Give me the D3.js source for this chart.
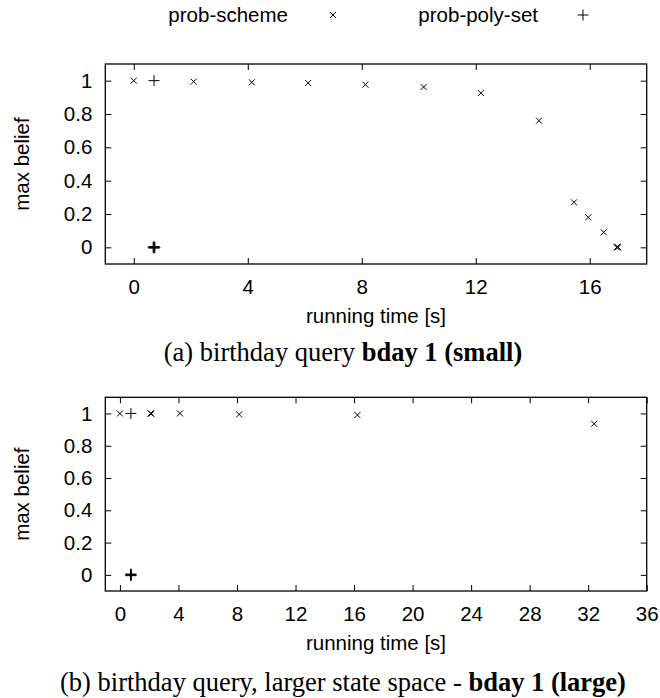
<!DOCTYPE html>
<html><head><meta charset="utf-8">
<script src="https://cdn.jsdelivr.net/npm/d3@7"></script>
<style>
html,body{margin:0;padding:0;background:#fff;}
svg{display:block;}
.sans{font-family:"Liberation Sans",Arial,sans-serif;}
.serif{font-family:"Liberation Serif","Times New Roman",serif;}
</style></head><body>
<svg id="c" width="660" height="698"></svg>
<script>
// ---- data ----
const seriesNames = ["prob-scheme", "prob-poly-set"];
// (a) small
const smallSchemeX = [0, 2.1, 4.14, 6.12, 8.13, 10.17, 12.18, 14.22, 15.45, 15.95, 16.49, 16.95, 16.97, 16.99];
const smallSchemeY = [1.0, 0.994, 0.99, 0.986, 0.976, 0.962, 0.926, 0.76, 0.27, 0.18, 0.09, 0.0, 0.004, 0.0];
const smallPolyX = [0.71, 0.68, 0.71, 0.74, 0.71];
const smallPolyY = [1.0, 0.0, 0.005, 0.0, -0.005];
// (b) large
const largeSchemeX = [0, 2.1, 2.14, 4.1, 8.15, 16.23, 32.41];
const largeSchemeY = [1.0, 1.0, 0.998, 1.0, 0.994, 0.99, 0.936];
const largePolyX = [0.75, 0.72, 0.75, 0.78, 0.75];
const largePolyY = [1.0, 0.0, 0.005, 0.0, -0.005];
const yTicks = [0, 0.2, 0.4, 0.6, 0.8, 1];
const smallXTicks = [0, 4, 8, 12, 16];
const largeXTicks = [0, 4, 8, 12, 16, 20, 24, 28, 32, 36];
const xLabel = "running time [s]";
const yLabel = "max belief";

const svg = d3.select("#c");
const FS = 20.5;

function crossPath(s){ return `M${-s},${-s}L${s},${s}M${-s},${s}L${s},${-s}`; }
function plusPath(s){ return `M${-s},0L${s},0M0,${-s}L0,${s}`; }

function panel(cfg){
  const {left,right,top,bottom,xDomain,xTicks,sx,sy,px,py} = cfg;
  const x = d3.scaleLinear().domain(xDomain).range([left,right]);
  const y = d3.scaleLinear().domain([-0.1,1.1]).range([bottom,top]);
  const g = svg.append("g");
  const tl = 6;
  const axB = d3.axisBottom(x).tickValues(xTicks).tickSize(-tl).tickPadding(tl+9).tickFormat(d3.format("d"));
  const axT = d3.axisTop(x).tickValues(xTicks).tickSize(-tl).tickFormat("");
  const axL = d3.axisLeft(y).tickValues(yTicks).tickSize(-tl).tickPadding(tl+7).tickFormat(d=>d3.format("~g")(d));
  const axR = d3.axisRight(y).tickValues(yTicks).tickSize(-tl).tickFormat("");
  [[axB,`translate(0,${bottom})`,true],[axT,`translate(0,${top})`,false],[axL,`translate(${left},0)`,false],[axR,`translate(${right},0)`,false]].forEach(([a,t,isB])=>{
    const ag = g.append("g").attr("transform",t).call(a);
    ag.select(".domain").remove();
    ag.selectAll(".tick line").attr("stroke","#000").attr("stroke-width",1);
    ag.selectAll("text").attr("class","sans").attr("font-size",FS).attr("fill","#000");
    if(isB) ag.selectAll("text").attr("dy","0.71em");
  });
  g.append("rect").attr("x",left).attr("y",top).attr("width",right-left).attr("height",bottom-top)
    .attr("fill","none").attr("stroke","#000").attr("stroke-width",1.3);
  g.append("g").selectAll("path").data(sx.map((v,i)=>[v,sy[i]])).join("path")
    .attr("transform",d=>`translate(${x(d[0])},${y(d[1])})`).attr("d",crossPath(3))
    .attr("stroke","#000").attr("stroke-width",1).attr("fill","none");
  g.append("g").selectAll("path").data(px.map((v,i)=>[v,py[i]])).join("path")
    .attr("transform",d=>`translate(${x(d[0])},${y(d[1])})`).attr("d",plusPath(5.5))
    .attr("stroke","#000").attr("stroke-width",1).attr("fill","none");
  g.append("text").attr("class","sans").attr("font-size",FS)
    .attr("transform",`translate(29,${(top+bottom)/2}) rotate(-90)`).attr("text-anchor","middle").text(yLabel);
  g.append("text").attr("class","sans").attr("font-size",FS)
    .attr("x",(left+right)/2).attr("y",bottom+59).attr("text-anchor","middle").text(xLabel);
}

panel({left:105.3,right:646.7,top:64,bottom:264,xDomain:[-1,18],xTicks:smallXTicks,
  sx:smallSchemeX,sy:smallSchemeY,px:smallPolyX,py:smallPolyY});
panel({left:105.3,right:646.7,top:397.3,bottom:591,xDomain:[-1,36],xTicks:largeXTicks,
  sx:largeSchemeX,sy:largeSchemeY,px:largePolyX,py:largePolyY});

// legend
const lg = svg.append("g");
lg.append("text").attr("class","sans").attr("font-size",FS).attr("x",288).attr("y",22).attr("text-anchor","end").text(seriesNames[0]);
lg.append("path").attr("transform","translate(333,15)").attr("d",crossPath(3)).attr("stroke","#000").attr("fill","none");
lg.append("text").attr("class","sans").attr("font-size",FS).attr("x",538).attr("y",22).attr("text-anchor","end").text(seriesNames[1]);
lg.append("path").attr("transform","translate(583,15)").attr("d",plusPath(5.5)).attr("stroke","#000").attr("fill","none");

// captions
function caption(yb, normal, bold){
  const t = svg.append("text").attr("class","serif").attr("font-size",26.5).attr("x",343).attr("y",yb).attr("text-anchor","middle");
  t.append("tspan").text(normal);
  t.append("tspan").attr("font-weight","bold").text(bold);
}
caption(361, "(a) birthday query ", "bday 1 (small)");
caption(691, "(b) birthday query, larger state space - ", "bday 1 (large)");
</script></body></html>
